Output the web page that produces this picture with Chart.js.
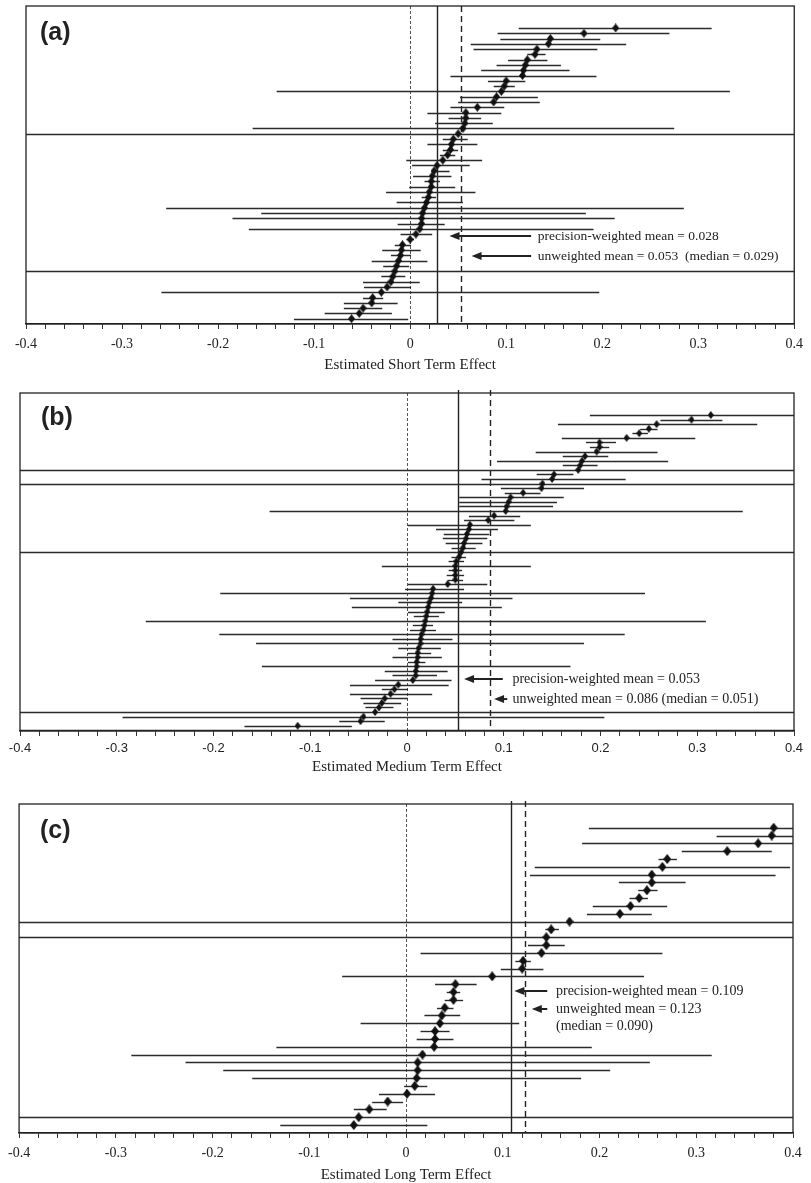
<!DOCTYPE html>
<html>
<head>
<meta charset="utf-8">
<script src="https://cdn.jsdelivr.net/npm/chart.js@4.4.1/dist/chart.umd.min.js"></script>
<style>
  html, body { margin: 0; padding: 0; background: #fff; }
  #page { position: relative; width: 811px; height: 1183px; overflow: hidden; }
  .panel { position: absolute; left: 0; width: 811px; }
</style>
</head>
<body>
<div id="page">
  <div class="panel" style="top:0;height:385px"><canvas id="chartA" width="811" height="385"></canvas></div>
  <div class="panel" style="top:385px;height:400px"><canvas id="chartB" width="811" height="400"></canvas></div>
  <div class="panel" style="top:785px;height:398px"><canvas id="chartC" width="811" height="398"></canvas></div>
</div>
<script>
// (a) short term: estimate, lower and upper bound per study (top to bottom)
const shortEst = [0.214, 0.181, 0.146, 0.144, 0.132, 0.130, 0.122, 0.120, 0.118, 0.117,
  0.100, 0.098, 0.095, 0.090, 0.087, 0.070, 0.058, 0.058, 0.057, 0.055,
  0.050, 0.045, 0.043, 0.042, 0.039, 0.034, 0.028, 0.025, 0.023, 0.022,
  0.022, 0.020, 0.019, 0.017, 0.015, 0.013, 0.012, 0.012, 0.010, 0.006,
  0.000, -0.008, -0.009, -0.010, -0.012, -0.014, -0.016, -0.018, -0.020, -0.024,
  -0.030, -0.039, -0.040, -0.049, -0.053, -0.061];
const shortLow = [0.113, 0.091, 0.094, 0.063, 0.066, 0.122, 0.102, 0.090, 0.074, 0.042,
  0.081, 0.087, -0.139, 0.052, 0.050, 0.042, 0.018, 0.040, 0.026, -0.164,
  -1, 0.034, 0.018, 0.034, 0.031, -0.004, 0.002, 0.022, 0.003, 0.015,
  -0.001, -0.025, 0.012, -0.014, -0.254, -0.155, -0.185, -0.013, -0.168, -0.010,
  -0.004, -0.016, -0.029, -0.020, -0.040, -0.028, -1, -0.030, -0.049, -0.048,
  -0.259, -0.049, -0.069, -0.069, -0.089, -0.121];
const shortHigh = [0.314, 0.270, 0.198, 0.225, 0.195, 0.141, 0.143, 0.157, 0.166, 0.194,
  0.120, 0.109, 0.333, 0.133, 0.135, 0.098, 0.095, 0.074, 0.086, 0.275,
  1, 0.060, 0.070, 0.050, 0.047, 0.075, 0.062, 0.041, 0.043, 0.031,
  0.047, 0.068, 0.027, 0.055, 0.285, 0.183, 0.213, 0.036, 0.191, 0.023,
  0.004, 0.001, 0.011, 0.001, 0.018, -0.001, 1, -0.005, 0.010, 0.001,
  0.197, -0.028, -0.013, -0.029, -0.019, -0.002];

// (b) medium term
const mediumEst = [0.314, 0.294, 0.258, 0.250, 0.240, 0.227, 0.199, 0.199, 0.196, 0.184,
  0.181, 0.179, 0.177, 0.152, 0.150, 0.140, 0.139, 0.120, 0.107, 0.105,
  0.103, 0.102, 0.090, 0.084, 0.065, 0.064, 0.062, 0.061, 0.059, 0.058,
  0.056, 0.054, 0.051, 0.050, 0.050, 0.050, 0.050, 0.042, 0.027, 0.026,
  0.025, 0.023, 0.022, 0.021, 0.020, 0.019, 0.018, 0.017, 0.015, 0.014,
  0.014, 0.012, 0.011, 0.011, 0.010, 0.010, 0.009, 0.009, 0.006, -0.009,
  -0.013, -0.017, -0.023, -0.026, -0.029, -0.033, -0.045, -0.048, -0.113, null];
const mediumLow = [0.189, 0.262, 0.156, 0.241, 0.233, 0.160, 0.185, 0.189, 0.133, 0.161,
  0.093, 0.161, -1, 0.134, 0.077, -1, 0.097, 0.101, 0.054, 0.054,
  0.054, -0.142, 0.064, 0.059, 0.001, 0.030, 0.038, 0.037, 0.040, 0.046,
  -1, 0.046, 0.043, -0.026, 0.043, 0.041, 0.042, 0.001, -0.002, -0.193,
  -0.059, -0.009, -0.057, 0.001, 0.007, -0.270, 0.006, 0.003, -0.194, -0.015,
  -0.156, -0.009, 0.001, -0.015, 0.001, -0.150, -0.023, -0.015, -0.033, -0.059,
  -0.026, -0.059, -0.048, -0.045, -0.043, -1, -0.294, -0.070, -0.168, -1];
const mediumHigh = [0.45, 0.326, 0.362, 0.259, 0.249, 0.298, 0.216, 0.209, 0.259, 0.208,
  0.270, 0.197, 1, 0.172, 0.226, 1, 0.183, 0.138, 0.162, 0.155,
  0.151, 0.347, 0.117, 0.111, 0.128, 0.094, 0.085, 0.083, 0.078, 0.071,
  1, 0.061, 0.059, 0.128, 0.057, 0.059, 0.058, 0.083, 0.059, 0.246,
  0.109, 0.057, 0.098, 0.039, 0.033, 0.309, 0.027, 0.030, 0.225, 0.047,
  0.183, 0.035, 0.025, 0.036, 0.019, 0.169, 0.042, 0.031, 0.046, 0.043,
  0.001, 0.026, 0.001, -0.006, -0.014, 1, 0.204, -0.023, -0.057, 1];

// (c) long term
const longEst = [0.380, 0.378, 0.364, 0.332, 0.270, 0.265, 0.254, 0.254, 0.249, 0.241,
  0.232, 0.221, 0.169, 0.150, 0.145, 0.145, 0.140, 0.121, 0.120, 0.089,
  0.051, 0.049, 0.049, 0.040, 0.037, 0.035, 0.030, 0.030, 0.029, 0.017,
  0.012, 0.012, 0.011, 0.009, 0.001, -0.019, -0.038, -0.049, -0.054];
const longLow = [0.189, 0.321, 0.182, 0.285, 0.261, 0.133, 0.128, 0.220, 0.240, 0.231,
  0.193, 0.187, -1, 0.144, -1, 0.126, 0.015, 0.113, 0.098, -0.066,
  0.030, 0.042, 0.040, 0.032, 0.019, -0.047, 0.015, 0.011, -0.134, -0.284,
  -0.228, -0.189, -0.159, -0.002, -0.028, -0.035, -0.054, -1, -0.130];
const longHigh = [0.45, 0.45, 0.45, 0.378, 0.280, 0.397, 0.382, 0.289, 0.260, 0.250,
  0.270, 0.254, 1, 0.158, 1, 0.164, 0.265, 0.129, 0.142, 0.246,
  0.073, 0.056, 0.059, 0.049, 0.056, 0.117, 0.045, 0.049, 0.192, 0.316,
  0.252, 0.211, 0.181, 0.022, 0.030, -0.003, -0.020, 1, 0.022];

const xTicks = [-0.4, -0.3, -0.2, -0.1, 0, 0.1, 0.2, 0.3, 0.4];

function diamond(w, h) {
  const c = document.createElement('canvas');
  c.width = w; c.height = h;
  const g = c.getContext('2d');
  g.fillStyle = '#111';
  g.beginPath();
  g.moveTo(w / 2, 0); g.lineTo(w, h / 2); g.lineTo(w / 2, h); g.lineTo(0, h / 2);
  g.closePath(); g.fill();
  return c;
}

function forestPlugin(cfg) {
  return {
    id: 'forest',
    beforeDatasetsDraw(chart) {
      const { ctx, chartArea: a, scales: { x, y } } = chart;
      ctx.save();
      // reference lines: zero, precision-weighted mean, unweighted mean
      const refs = [
        { v: 0, dash: [3, 2], w: 1, c: '#555', top: a.top },
        { v: cfg.pwMean, dash: [], w: 1.4, c: '#222', top: a.top - cfg.overTop },
        { v: cfg.uwMean, dash: [6, 4], w: 1.4, c: '#222', top: a.top - cfg.overTop }
      ];
      refs.forEach(r => {
        const px = Math.round(x.getPixelForValue(r.v)) + 0.5;
        ctx.setLineDash(r.dash);
        ctx.lineWidth = r.w; ctx.strokeStyle = r.c;
        ctx.beginPath(); ctx.moveTo(px, r.top); ctx.lineTo(px, a.bottom); ctx.stroke();
      });
      ctx.setLineDash([]);
      // confidence intervals
      ctx.beginPath();
      ctx.rect(a.left, a.top, a.right - a.left, a.bottom - a.top);
      ctx.clip();
      ctx.strokeStyle = '#2b2b2b';
      ctx.lineWidth = 1.4;
      cfg.low.forEach((lo, i) => {
        const py = Math.round(y.getPixelForValue(i)) + 0.5;
        ctx.beginPath();
        ctx.moveTo(x.getPixelForValue(lo), py);
        ctx.lineTo(x.getPixelForValue(cfg.high[i]), py);
        ctx.stroke();
      });
      ctx.restore();
    },
    afterDraw(chart) {
      const { ctx, chartArea: a, scales: { x, y } } = chart;
      ctx.save();
      ctx.strokeStyle = '#222';
      ctx.lineWidth = 1.3;
      ctx.strokeRect(a.left, a.top, a.right - a.left, a.bottom - a.top);
      // arrows
      ctx.fillStyle = '#222';
      ctx.lineWidth = 2;
      cfg.arrows.forEach(ar => {
        const x1 = x.getPixelForValue(ar.from), x2 = x.getPixelForValue(ar.to);
        const py = y.getPixelForValue(ar.row);
        ctx.beginPath(); ctx.moveTo(x1, py); ctx.lineTo(x2 + 6, py); ctx.stroke();
        ctx.beginPath();
        ctx.moveTo(x2, py); ctx.lineTo(x2 + 10, py - 4); ctx.lineTo(x2 + 10, py + 4);
        ctx.closePath(); ctx.fill();
      });
      ctx.font = cfg.noteFont;
      ctx.textBaseline = 'middle';
      ctx.textAlign = 'left';
      cfg.notes.forEach(n => {
        ctx.fillText(n.text, x.getPixelForValue(n.x), y.getPixelForValue(n.row));
      });
      ctx.font = 'bold 25px "Liberation Sans", Arial, sans-serif';
      ctx.fillText(cfg.label, cfg.labelX, cfg.labelY);
      ctx.restore();
    }
  };
}

function makePanel(id, cfg) {
  const est = cfg.est;
  const points = est.map((v, i) => ({ x: v, y: i })).filter(p => p.x !== null);
  return new Chart(document.getElementById(id), {
    type: 'scatter',
    data: {
      datasets: [{
        data: points,
        pointStyle: diamond(cfg.dw, cfg.dh),
        pointRadius: 4,
        showLine: false
      }]
    },
    options: {
      responsive: false,
      animation: false,
      devicePixelRatio: 1,
      layout: { padding: { left: cfg.left, right: 811 - cfg.right, top: cfg.top, bottom: 0 } },
      plugins: { legend: { display: false }, tooltip: { enabled: false } },
      scales: {
        x: {
          type: 'linear', min: -0.4, max: 0.4,
          afterFit: s => { s.height = cfg.axisHeight; },
          border: { display: true, color: '#222', width: 1.3 },
          grid: { drawOnChartArea: false, drawTicks: true, tickLength: 5, color: '#333', lineWidth: 1 },
          ticks: {
            stepSize: 0.02, autoSkip: false, maxRotation: 0, padding: cfg.tickPad,
            color: '#222', font: cfg.tickFont,
            callback: v => {
              const k = Math.round(v * 10);
              return Math.abs(v * 10 - k) < 1e-6 && xTicks.includes(k / 10) ? String(k / 10) : '';
            }
          },
          title: {
            display: true, text: cfg.title, color: '#222',
            font: { family: '"Liberation Serif", "Times New Roman", serif', size: 15, lineHeight: 1 },
            padding: { top: 0, bottom: cfg.titlePad }
          }
        },
        y: { type: 'linear', display: false, reverse: true, min: cfg.yMin, max: cfg.yMax }
      }
    },
    plugins: [forestPlugin(cfg)]
  });
}

const serif = '"Liberation Serif", "Times New Roman", serif';

makePanel('chartA', {
  est: shortEst, low: shortLow, high: shortHigh,
  left: 26, right: 798, top: 6, axisHeight: 61, yMin: -4.16, yMax: 56.0,
  tickPad: 8, tickFont: { family: serif, size: 14, lineHeight: 1 }, titlePad: 12.5,
  title: 'Estimated Short Term Effect', dw: 7, dh: 9,
  pwMean: 0.028, uwMean: 0.053, overTop: 0,
  arrows: [{ from: 0.126, to: 0.041, row: 39.36 }, { from: 0.126, to: 0.064, row: 43.14 }],
  notes: [
    { x: 0.133, row: 39.36, text: 'precision-weighted mean = 0.028' },
    { x: 0.133, row: 43.14, text: 'unweighted mean = 0.053  (median = 0.029)' }
  ],
  noteFont: '13.5px ' + serif,
  label: '(a)', labelX: 40, labelY: 33
});

makePanel('chartB', {
  est: mediumEst, low: mediumLow, high: mediumHigh,
  left: 20, right: 794, top: 8, axisHeight: 54, yMin: -4.815, yMax: 69.15,
  tickPad: 5.5, tickFont: { family: '"Liberation Sans", Arial, sans-serif', size: 13, lineHeight: 1 }, titlePad: 10.8,
  title: 'Estimated Medium Term Effect', dw: 6, dh: 8,
  pwMean: 0.053, uwMean: 0.086, overTop: 3,
  arrows: [{ from: 0.099, to: 0.059, row: 57.78 }, { from: 0.1036, to: 0.090, row: 62.16 }],
  notes: [
    { x: 0.109, row: 57.78, text: 'precision-weighted mean = 0.053' },
    { x: 0.109, row: 62.16, text: 'unweighted mean = 0.086 (median = 0.051)' }
  ],
  noteFont: '14px ' + serif,
  label: '(b)', labelX: 41, labelY: 33
});

makePanel('chartC', {
  est: longEst, low: longLow, high: longHigh,
  left: 19, right: 793, top: 19, axisHeight: 50, yMin: -3.03, yMax: 39.02,
  tickPad: 8, tickFont: { family: serif, size: 14, lineHeight: 1 }, titlePad: 0.5,
  title: 'Estimated Long Term Effect', dw: 8, dh: 10,
  pwMean: 0.109, uwMean: 0.123, overTop: 3,
  arrows: [{ from: 0.146, to: 0.112, row: 20.87 }, { from: 0.146, to: 0.130, row: 23.17 }],
  notes: [
    { x: 0.155, row: 20.87, text: 'precision-weighted mean = 0.109' },
    { x: 0.155, row: 23.17, text: 'unweighted mean = 0.123' },
    { x: 0.155, row: 25.35, text: '(median = 0.090)' }
  ],
  noteFont: '14px ' + serif,
  label: '(c)', labelX: 40, labelY: 46
});
</script>
</body>
</html>
